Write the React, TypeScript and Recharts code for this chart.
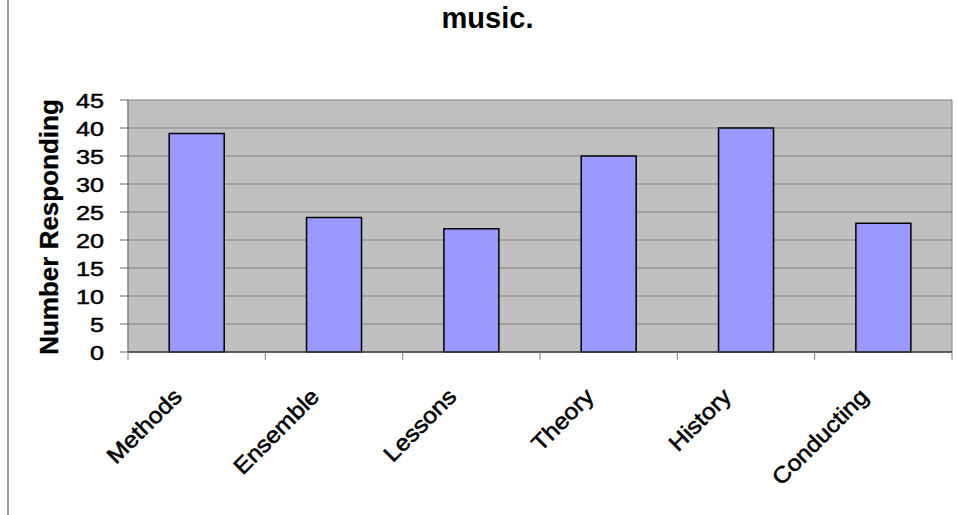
import { BarChart, Bar, XAxis, YAxis, CartesianGrid } from 'recharts';

const categories = ['Methods', 'Ensemble', 'Lessons', 'Theory', 'History', 'Conducting'];
const responses = [39, 24, 22, 35, 40, 23];
const yTicks = [0, 5, 10, 15, 20, 25, 30, 35, 40, 45];
const title = 'music.';
const yTitle = 'Number Responding';

const CHART_W = 957;
const CHART_H = 515;
const Y_AXIS_W = 128;
const MARGIN_RIGHT = 5;
const FONT = '"Liberation Sans", Arial, Helvetica, sans-serif';

const data = categories.map((c, i) => ({ category: c, responses: responses[i] }));

function YTick(props: any) {
  const { x, y, payload } = props;
  return (
    <text
      transform={`translate(${x},${y + 1}) scale(1.2,1)`}
      textAnchor="end"
      dy="0.355em"
      fontSize={21}
      fontFamily={FONT}
      fill="#000"
      stroke="#000"
      strokeWidth={0.5}
    >
      {payload.value}
    </text>
  );
}

function XTick(props: any) {
  const { x, y, payload, index, visibleTicksCount } = props;
  const n = visibleTicksCount || categories.length;
  const plotW = props.width || CHART_W - Y_AXIS_W - MARGIN_RIGHT;
  const bw = plotW / n;
  return (
    <g>
      <line x1={x - bw / 2} x2={x - bw / 2} y1={y - 8} y2={y} stroke="#808080" />
      {index === n - 1 && (
        <line x1={x + bw / 2} x2={x + bw / 2} y1={y - 8} y2={y} stroke="#808080" />
      )}
      <text
        transform={`translate(${x - 13.5},${y + 38}) rotate(-45) scale(1.1,1)`}
        textAnchor="end"
        fontSize={22.5}
        fontFamily={FONT}
        fill="#000"
        stroke="#000"
        strokeWidth={0.55}
      >
        {payload.value}
      </text>
    </g>
  );
}

function YTitle(props: any) {
  const vb = props.viewBox || {};
  const cy = (vb.y || 0) + (vb.height || 0) / 2;
  return (
    <text
      transform={`translate(57.5,${cy + 1}) rotate(-90)`}
      textAnchor="middle"
      fontSize={26}
      fontWeight="bold"
      fontFamily={FONT}
      fill="#000"
      stroke="#000"
      strokeWidth={0.3}
    >
      {yTitle}
    </text>
  );
}

export default function App() {
  return (
    <div
      style={{
        position: 'absolute',
        left: 0,
        top: 0,
        width: CHART_W,
        height: CHART_H,
        background: '#fff',
        fontFamily: FONT,
      }}
    >
      <div
        style={{
          position: 'absolute',
          left: 7,
          top: 0,
          width: 2,
          height: CHART_H,
          background: '#9a9a9a',
        }}
      />
      <div
        style={{
          position: 'absolute',
          top: 3.5,
          left: 18,
          width: CHART_W - 18,
          textAlign: 'center',
          fontSize: 29,
          lineHeight: '29px',
          fontWeight: 'bold',
          color: '#000',
        }}
      >
        {title}
      </div>
      <BarChart
        width={CHART_W}
        height={CHART_H}
        data={data}
        margin={{ top: 100, right: MARGIN_RIGHT, bottom: 0, left: 0 }}
        barCategoryGap="30%"
      >
        <CartesianGrid
          fill="#c0c0c0"
          fillOpacity={1}
          stroke="#808080"
          verticalCoordinatesGenerator={({ offset }: any) => [
            offset.left,
            offset.left + offset.width,
          ]}
        />
        <XAxis
          dataKey="category"
          height={163}
          interval={0}
          tickSize={8}
          tickMargin={0}
          tickLine={{ stroke: 'transparent' }}
          axisLine={{ stroke: '#404040', strokeWidth: 1.5 }}
          tick={<XTick />}
        />
        <YAxis
          domain={[0, 45]}
          ticks={yTicks}
          interval={0}
          width={Y_AXIS_W}
          tickSize={8}
          tickMargin={16}
          tickLine={{ stroke: '#606060' }}
          axisLine={{ stroke: '#808080' }}
          tick={<YTick />}
          label={<YTitle />}
        />
        <Bar
          dataKey="responses"
          fill="#9999ff"
          stroke="#000"
          strokeWidth={1.5}
          isAnimationActive={false}
        />
      </BarChart>
    </div>
  );
}
